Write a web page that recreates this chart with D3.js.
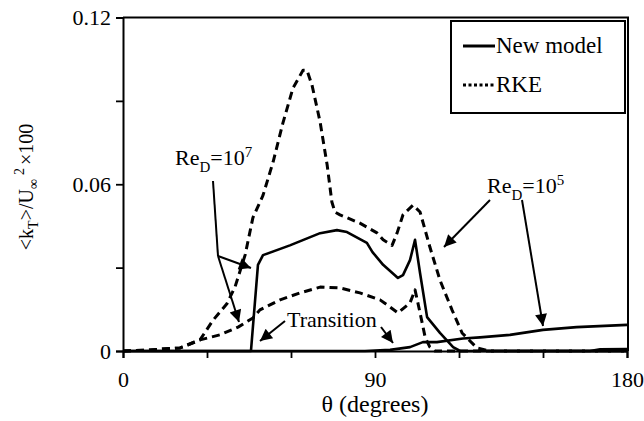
<!DOCTYPE html>
<html>
<head>
<meta charset="utf-8">
<script src="https://cdn.jsdelivr.net/npm/d3@7"></script>
<style>
  html, body { margin: 0; padding: 0; background: #fff; }
  svg { display: block; }
  svg text { font-family: "Liberation Serif", "Times New Roman", serif; fill: #000; }
</style>
</head>
<body>
<svg id="chart" width="644" height="421"></svg>
<script>
// θ (degrees) and turbulent kinetic energy <kT>/U∞² ×100
const rkeHighX = [0, 9.6, 20.4, 27.5, 32.1, 37.1, 40, 43.6, 46.4, 50, 53.6, 57.1, 60.7, 64.3, 65.7, 67.5, 70.4, 72.9, 74.6, 75.7, 77.5, 84.6, 90.7, 92.9, 96.1, 97.9, 100, 103.6, 106.1, 109.6, 113.2, 117.5, 121.1, 126.4, 131, 180];
const rkeHighY = [0, 0.0004, 0.0011, 0.004, 0.011, 0.017, 0.023, 0.0345, 0.048, 0.056, 0.068, 0.082, 0.0946, 0.101, 0.101, 0.0957, 0.0824, 0.067, 0.0536, 0.050, 0.049, 0.046, 0.0425, 0.040, 0.038, 0.0425, 0.049, 0.0525, 0.050, 0.0374, 0.0255, 0.0148, 0.0065, 0.0011, 0, 0];

const rkeLowX = [0, 9.6, 20.4, 27.5, 34.6, 41.1, 46.4, 48.9, 56.1, 63.2, 70.4, 77.5, 84.6, 91.8, 95.4, 98.2, 102.5, 104.3, 106.1, 107.9, 109.6, 111.4, 180];
const rkeLowY = [0, 0.0004, 0.0011, 0.004, 0.0058, 0.0086, 0.0119, 0.0148, 0.0184, 0.0209, 0.023, 0.0227, 0.0209, 0.0184, 0.0158, 0.0137, 0.0173, 0.022, 0.0137, 0.005, 0.0014, 0, 0];

const newHighX = [0, 45.7, 48.2, 50, 59.6, 70.4, 76.4, 80, 87.1, 89.1, 92.9, 98.2, 100, 102.5, 104.3, 106.1, 108.6, 113.2, 117.9, 120.4, 166.8, 170.4, 180];
const newHighY = [0, 0, 0.031, 0.0345, 0.038, 0.0424, 0.0435, 0.0428, 0.0389, 0.0356, 0.031, 0.0263, 0.0273, 0.0327, 0.040, 0.028, 0.0122, 0.0065, 0.0014, 0, 0, 0.0006, 0.0007];

const newLowX = [0, 86.4, 95.4, 102.5, 107.1, 112.1, 121.4, 127.5, 138.2, 150, 162, 180];
const newLowY = [0, 0, 0.0004, 0.0014, 0.0032, 0.0032, 0.0045, 0.0049, 0.0058, 0.0076, 0.0086, 0.0094];

const xTicks = [0, 30, 60, 90, 120, 150, 180];
const xTickLabels = ["0", "", "", "90", "", "", "180"];
const yTicks = [0, 0.03, 0.06, 0.09, 0.12];
const yTickLabels = ["0", "", "0.06", "", "0.12"];
const legendLabels = ["New model", "RKE"];

const serif = "Liberation Serif, Times New Roman, serif";
const svg = d3.select("#chart").attr("font-family", serif);
const plotLeft = 123, plotRight = 628, plotTop = 17.5, plotBottom = 351;

const x = d3.scaleLinear().domain([0, 180]).range([plotLeft, plotRight - 1]);
const y = d3.scaleLinear().domain([0, 0.12]).range([plotBottom, plotTop]);

// plot frame (top and right sides)
svg.append("path")
  .attr("d", `M${plotLeft},${plotTop}H${plotRight}V${plotBottom}`)
  .attr("fill", "none").attr("stroke", "#000").attr("stroke-width", 2);

// axes
const xAxis = d3.axisBottom(x).tickValues(xTicks)
  .tickFormat((d, i) => xTickLabels[i]).tickSizeOuter(0).tickSize(7).tickPadding(13);
const gx = svg.append("g").attr("transform", `translate(0,${plotBottom})`).call(xAxis);
const yAxis = d3.axisLeft(y).tickValues(yTicks)
  .tickFormat((d, i) => yTickLabels[i]).tickSizeOuter(0).tickSize(7).tickPadding(5);
const gy = svg.append("g").attr("transform", `translate(${plotLeft},0)`).call(yAxis);
[gx, gy].forEach(g => {
  g.attr("font-family", serif);
  g.selectAll(".domain").attr("stroke", "#000").attr("stroke-width", 2);
  g.selectAll(".tick line").attr("stroke", "#000").attr("stroke-width", 1.8);
  g.selectAll(".tick text").attr("font-family", serif)
    .attr("font-size", 22).attr("fill", "#000");
});
gy.selectAll(".tick text").attr("dy", "0.34em");

// curves
const line = d3.line().x(d => x(d[0])).y(d => y(d[1]));
const curve = (xs, ys, dashed) => {
  svg.append("path")
    .datum(xs.map((v, i) => [v, ys[i]]))
    .attr("d", line)
    .attr("fill", "none")
    .attr("stroke", "#000")
    .attr("stroke-width", dashed ? 3 : 2.6)
    .attr("stroke-linejoin", "round")
    .attr("stroke-dasharray", dashed ? "8,5" : null);
};
curve(rkeHighX, rkeHighY, true);
curve(rkeLowX, rkeLowY, true);
curve(newHighX, newHighY, false);
curve(newLowX, newLowY, false);

// arrowhead marker
svg.append("defs").append("marker")
  .attr("id", "head").attr("viewBox", "0 0 10 10")
  .attr("refX", 10).attr("refY", 5)
  .attr("markerWidth", 7).attr("markerHeight", 6)
  .attr("markerUnits", "strokeWidth").attr("orient", "auto")
  .append("path").attr("d", "M0,0L10,5L0,10Z").attr("fill", "#000");

const seg = (pts, arrow) => svg.append("path")
  .attr("d", d3.line()(pts))
  .attr("fill", "none").attr("stroke", "#000").attr("stroke-width", 2)
  .attr("marker-end", arrow ? "url(#head)" : null);

// Re_D = 10^7 callout
seg([[213, 181], [218, 256]], false);
seg([[218, 256], [251, 268]], true);
seg([[218, 256], [239, 322]], true);
// Re_D = 10^5 callout
seg([[490, 200], [444, 247]], true);
seg([[522, 200], [543, 326]], true);
// Transition arrows
seg([[285, 321], [260, 341]], true);
seg([[381, 327], [393, 343]], true);

// labels
const rich = (tx, ty, parts, size) => {
  const t = svg.append("text").attr("x", tx).attr("y", ty).attr("font-size", size)
    .attr("font-family", serif);
  parts.forEach(p => {
    const s = t.append("tspan").text(p.t);
    if (p.sub) s.attr("font-size", size * 0.68).attr("dy", size * 0.3);
    if (p.sup) s.attr("font-size", size * 0.68).attr("dy", -size * 0.38);
    if (p.back) s.attr("dy", -size * 0.3);
  });
  return t;
};
rich(175, 165, [{t: "Re"}, {t: "D", sub: true}, {t: "=10", back: true}, {t: "7", sup: true}], 22);
rich(487, 193, [{t: "Re"}, {t: "D", sub: true}, {t: "=10", back: true}, {t: "5", sup: true}], 22);
svg.append("text").attr("x", 287).attr("y", 327).attr("font-size", 22)
  .attr("font-family", serif).text("Transition");

// axis titles
svg.append("text").attr("x", x(90)).attr("y", 412).attr("text-anchor", "middle")
  .attr("font-family", serif).attr("font-size", 24).text("θ (degrees)");
const yl = svg.append("text").attr("transform", "translate(33,187) rotate(-90)")
  .attr("text-anchor", "middle").attr("font-family", serif).attr("font-size", 20);
yl.append("tspan").text("<k");
yl.append("tspan").text("T").attr("font-size", 14).attr("dy", 5);
yl.append("tspan").text(">/U").attr("dy", -5);
yl.append("tspan").text("∞").attr("font-size", 14).attr("dy", 5);
yl.append("tspan").text("2").attr("font-size", 14).attr("dy", -14).attr("dx", 4);
yl.append("tspan").text("×100").attr("dy", 9).attr("dx", 3);

// legend
const lg = svg.append("g");
lg.append("rect").attr("x", 451).attr("y", 21).attr("width", 174).attr("height", 92)
  .attr("fill", "#fff").attr("stroke", "#000").attr("stroke-width", 2);
legendLabels.forEach((name, i) => {
  const ly = 46 + i * 39;
  lg.append("line").attr("x1", 463).attr("x2", 495).attr("y1", ly).attr("y2", ly)
    .attr("stroke", "#000").attr("stroke-width", i === 0 ? 3 : 3.2)
    .attr("stroke-dasharray", i === 0 ? null : "3,2.5");
  lg.append("text").attr("x", 496).attr("y", ly + 7).attr("font-size", 23)
    .attr("font-family", serif).text(name);
});
</script>
</body>
</html>
